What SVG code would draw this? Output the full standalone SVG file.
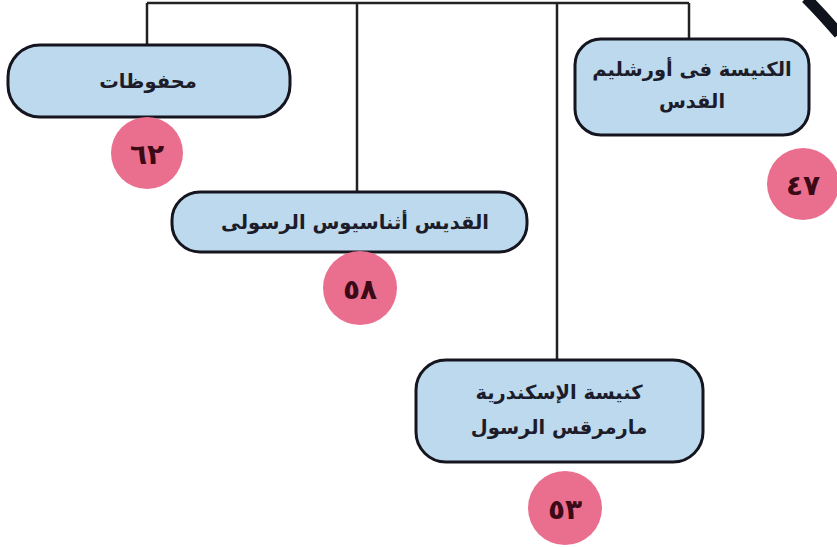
<svg xmlns="http://www.w3.org/2000/svg" width="837" height="547" viewBox="0 0 837 547">
<style>
.box{fill:#bdd9ed;stroke:#15151f;stroke-width:3}
.badge{fill:#ea6f8f}
.lbl{font-family:"DejaVu Sans","Noto Sans",sans-serif;font-weight:bold;font-size:19.5px;fill:#1c1c2a;text-anchor:middle;direction:rtl}
.num{font-family:"DejaVu Sans","Noto Sans",sans-serif;font-weight:bold;font-size:28px;fill:#3b0a16;text-anchor:middle}
.conn{fill:none;stroke:#222;stroke-width:2.5}
</style>
<rect width="837" height="547" fill="#ffffff"/>
<path d="M806,-2 Q822,14 839,34" fill="none" stroke="#10121c" stroke-width="11"/>
<g id="connectors">
<path class="conn" d="M147,3 H689"/>
<path class="conn" d="M147,3 V45"/>
<path class="conn" d="M357,3 V192"/>
<path class="conn" d="M557,3 V360"/>
<path class="conn" d="M689,3 V38"/>
</g>
<g id="n-makhtutat">
<rect class="box" x="8" y="45" width="282" height="72" rx="32"/>
<text class="lbl" x="148" y="88">محفوظات</text>
<circle class="badge" cx="147" cy="153" r="36"/>
<text class="num" x="147" y="164">٦٢</text>
</g>
<g id="n-jerusalem">
<rect class="box" x="575" y="39" width="234" height="96" rx="26"/>
<text class="lbl" x="692" y="76">الكنيسة فى أورشليم</text>
<text class="lbl" x="692" y="108">القدس</text>
<circle class="badge" cx="803" cy="184" r="36"/>
<text class="num" x="803" y="195">٤٧</text>
</g>
<g id="n-athanasius">
<rect class="box" x="172" y="192" width="355" height="60" rx="28"/>
<text class="lbl" x="355" y="229">القديس أثناسيوس الرسولى</text>
<circle class="badge" cx="360" cy="288" r="37"/>
<text class="num" x="360" y="299">٥٨</text>
</g>
<g id="n-alexandria">
<rect class="box" x="416" y="360" width="287" height="102" rx="30"/>
<text class="lbl" x="559" y="399">كنيسة الإسكندرية</text>
<text class="lbl" x="559" y="434">مارمرقس الرسول</text>
<circle class="badge" cx="565" cy="508" r="37"/>
<text class="num" x="565" y="519">٥٣</text>
</g>
</svg>
